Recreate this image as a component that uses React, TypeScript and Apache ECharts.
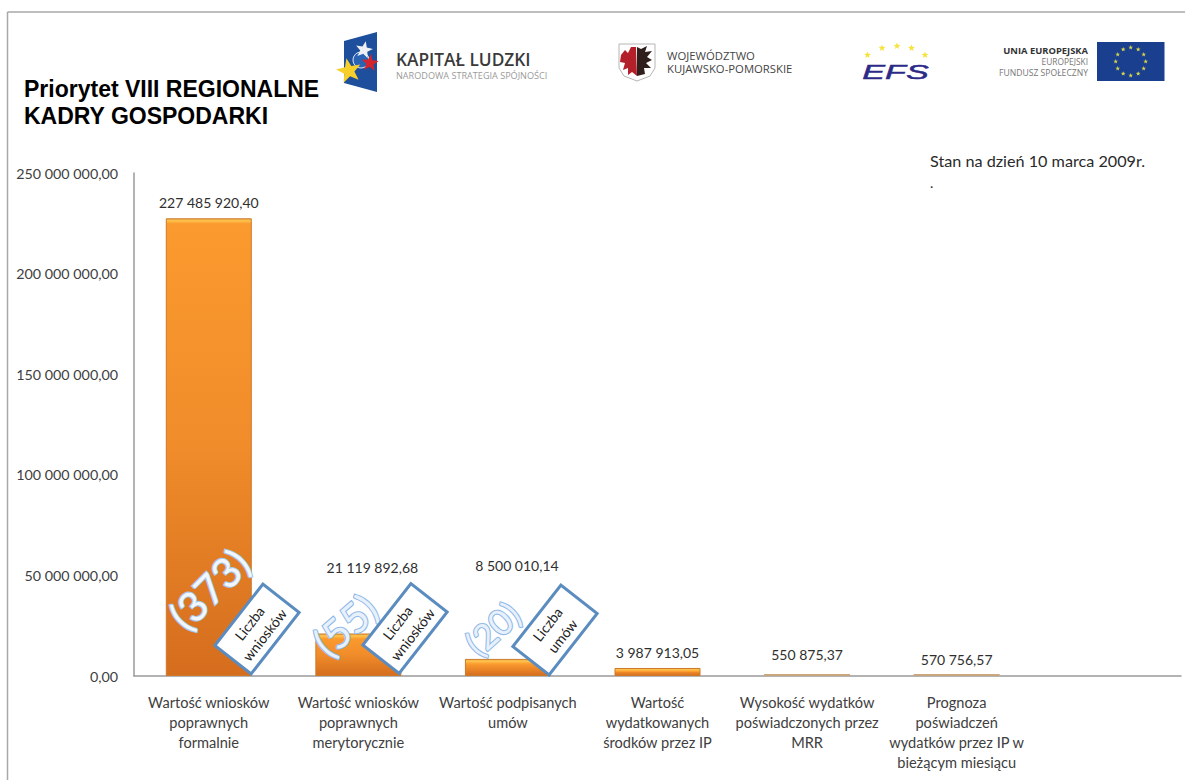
import React, { useEffect, useRef } from "react";
import * as echarts from "echarts";

const titleText = "Priorytet VIII REGIONALNE\nKADRY GOSPODARKI";
const statusText = "Stan na dzień 10 marca 2009r.";
const categories = [
  "Wartość wniosków\npoprawnych\nformalnie",
  "Wartość wniosków\npoprawnych\nmerytorycznie",
  "Wartość podpisanych\numów",
  "Wartość\nwydatkowanych\nśrodków przez IP",
  "Wysokość wydatków\npoświadczonych przez\nMRR",
  "Prognoza\npoświadczeń\nwydatków przez IP w\nbieżącym miesiącu",
  "",
];
const values = [227485920.4, 21119892.68, 8500010.14, 3987913.05, 550875.37, 570756.57, null];
const labelDistances = [9, 59, 86, 8, 13, 8, 0];
const labelShifts = [0, 14, 9, 0, 0, 0, 0];
const countLabels = ["(373)", "(55)", "(20)"];
const noteLabels = ["Liczba\nwniosków", "Liczba\nwniosków", "Liczba\numów"];

const FONT = "Lato, 'Open Sans', sans-serif";
const ARIAL = "'Liberation Sans', Arial, sans-serif";
const GRID_TOP = 173;
const GRID_H = 503;
const AXIS_MAX = 250000000;

const fmt = (v: number) => {
  const [a, b] = v.toFixed(2).split(".");
  return a.replace(/\B(?=(\d{3})+(?!\d))/g, " ") + "," + b;
};

const star = (cx: number, cy: number, r: number, rot = 0) => {
  const pts: number[][] = [];
  for (let i = 0; i < 10; i++) {
    const rad = i % 2 === 0 ? r : r * 0.42;
    const a = -Math.PI / 2 + rot + (i * Math.PI) / 5;
    pts.push([cx + rad * Math.cos(a), cy + rad * Math.sin(a)]);
  }
  return pts;
};

const barFill = (v: number | null) => {
  if (v == null) return undefined;
  const h = (v / AXIS_MAX) * GRID_H;
  if (h < 3) return { color: "#c9a67e", borderWidth: 0 };
  const f = Math.min(0.45, 5 / h);
  return {
    color: new echarts.graphic.LinearGradient(0, 0, 0, 1, [
      { offset: 0, color: "#e8b04e" },
      { offset: f * 0.4, color: "#ffc24a" },
      { offset: f, color: "#fb9a2e" },
      { offset: Math.max(f, 0.5), color: "#f08c2a" },
      { offset: 1, color: "#d56d1e" },
    ]),
    borderWidth: 1,
    borderColor: "#cc7a2a",
  };
};

const t = (text: string, x: number, y: number, font: string, fill: string, align = "left", extra: any = {}) => ({
  type: "text",
  x,
  y,
  z: 100,
  ...extra,
  style: { text, font, fill, align, verticalAlign: "middle", ...(extra.style || {}) },
});

const deg = (d: number) => (d * Math.PI) / 180;

const buildGraphics = () => {
  const els: any[] = [
    { type: "line", z: 1, shape: { x1: 7.5, y1: 12, x2: 1185, y2: 12 }, style: { stroke: "#a8a8a8", lineWidth: 1.5 } },
    { type: "line", z: 1, shape: { x1: 7.5, y1: 12, x2: 7.5, y2: 780 }, style: { stroke: "#a8a8a8", lineWidth: 1.5 } },
    // Kapitał Ludzki logo
    { type: "polygon", z: 50, shape: { points: [[344, 41], [377, 32], [377, 92], [344, 83]] }, style: { fill: "#1d4f9c" } },
    { type: "circle", z: 51, shape: { cx: 361, cy: 60, r: 8 }, style: { fill: "#2a62b4", stroke: "#dfe8f5", lineWidth: 1 } },
    { type: "polygon", z: 52, shape: { points: star(364, 50, 9, 0.2) }, style: { fill: "#eef0f4" } },
    { type: "polygon", z: 52, shape: { points: star(370, 63, 9, 0.1) }, style: { fill: "#d4242c" } },
    { type: "polygon", z: 53, shape: { points: star(349, 71, 13, -0.2) }, style: { fill: "#f6cf2a" } },
    t("KAPITAŁ LUDZKI", 396, 59, "600 17.3px 'Open Sans', sans-serif", "#3a3a3a"),
    t("NARODOWA STRATEGIA SPÓJNOŚCI", 396, 75, "9.1px 'Open Sans', sans-serif", "#9a9a9a"),
    // Crest
    {
      type: "polygon", z: 50,
      shape: { points: [[619, 44], [655, 44], [655, 68], [650, 76], [637, 81], [624, 76], [619, 68]] },
      style: { fill: "#ffffff", stroke: "#b5b5b5", lineWidth: 1 },
    },
    {
      type: "polygon", z: 51,
      shape: { points: [[621, 55], [625, 50], [628, 53], [631, 47], [636, 47], [637, 76], [632, 72], [628, 75], [628, 68], [623, 70], [625, 63], [620, 62]] },
      style: { fill: "#b3202a" },
    },
    {
      type: "polygon", z: 51,
      shape: { points: [[637, 47], [641, 49], [647, 46], [645, 52], [652, 51], [647, 57], [652, 60], [646, 63], [651, 68], [644, 68], [645, 74], [637, 76]] },
      style: { fill: "#2e1f1c" },
    },
    t("WOJEWÓDZTWO", 667, 55.5, "11.3px 'Open Sans', sans-serif", "#454545"),
    t("KUJAWSKO-POMORSKIE", 667, 68.5, "11.3px 'Open Sans', sans-serif", "#454545"),
    // EFS
    ...[[867.5, 55], [882, 48], [897, 46], [911.5, 48], [925, 55]].map(([x, y]) => ({
      type: "polygon", z: 50, shape: { points: star(x, y, 3.6) }, style: { fill: "#f5e33a" },
    })),
    t("EFS", 895.5, 72, "italic 400 22px 'Liberation Sans', sans-serif", "#2b2a86", "center", {
      scaleX: 1.55,
      scaleY: 0.95,
      style: { stroke: "#2b2a86", lineWidth: 0.5 },
    }),
    // EU
    t("UNIA EUROPEJSKA", 1088, 50.5, "700 9.4px 'Open Sans', sans-serif", "#333333", "right"),
    t("EUROPEJSKI", 1088, 61.5, "8.4px 'Open Sans', sans-serif", "#777777", "right"),
    t("FUNDUSZ SPOŁECZNY", 1088, 72.5, "8.6px 'Open Sans', sans-serif", "#777777", "right"),
    { type: "rect", z: 50, shape: { x: 1097, y: 42, width: 67.5, height: 39 }, style: { fill: "#1b3f8f" } },
    ...Array.from({ length: 12 }, (_, i) => ({
      type: "polygon", z: 51,
      shape: { points: star(1130.7 + 15 * Math.cos((i * Math.PI) / 6), 61.5 + 14 * Math.sin((i * Math.PI) / 6), 2.4) },
      style: { fill: "#d7d64a" },
    })),
    // Status note
    t(statusText, 930, 160, `16.2px ${FONT}`, "#2a2a2a"),
    t(".", 930, 182, `14px ${FONT}`, "#2a2a2a"),
  ];

  const counts = [
    { x: 209, y: 589, size: 41, angle: 45, fill: "#f2f7fd", stroke: "#a6c8ec" },
    { x: 345, y: 625, size: 41, angle: 41, fill: "#e8f1fb", stroke: "#8fb9e8" },
    { x: 492, y: 628, size: 35, angle: 42, fill: "#e8f1fb", stroke: "#8fb9e8" },
  ];
  counts.forEach((c, i) => {
    els.push(
      t(countLabels[i], c.x, c.y, `${c.size}px ${FONT}`, c.fill, "center", {
        rotation: deg(c.angle),
        style: { stroke: c.stroke, lineWidth: 2.2 },
      }),
    );
  });

  const boxes = [
    { x: 257, y: 629 },
    { x: 405, y: 628.5 },
    { x: 555, y: 630 },
  ];
  boxes.forEach((b, i) => {
    els.push({
      type: "group",
      x: b.x,
      y: b.y,
      rotation: deg(52),
      z: 110,
      children: [
        {
          type: "rect", z: 110,
          shape: { x: -39, y: -23, width: 78, height: 46 },
          style: { fill: "#ffffff", stroke: "#5b8cc0", lineWidth: 3 },
        },
        {
          type: "text", z: 111,
          style: {
            text: noteLabels[i], font: `14px ${FONT}`, fill: "#222222",
            align: "center", verticalAlign: "middle", lineHeight: 19,
          },
        },
      ],
    });
  });
  return els;
};

export default function App() {
  const ref = useRef<HTMLDivElement>(null);
  useEffect(() => {
    const chart = echarts.init(ref.current!, undefined, { renderer: "svg" });
    chart.setOption({
      animation: false,
      backgroundColor: "#ffffff",
      title: {
        text: titleText,
        left: 24,
        top: 75,
        padding: 0,
        textStyle: { fontFamily: ARIAL, fontSize: 23, fontWeight: "bold", lineHeight: 27, color: "#000000" },
      },
      grid: { left: 134, top: GRID_TOP, width: 1047, height: GRID_H },
      xAxis: {
        type: "category",
        data: categories,
        axisLine: { lineStyle: { color: "#9a9a9a", width: 1.5 } },
        axisTick: { show: false },
        axisLabel: {
          interval: 0, margin: 17, fontFamily: FONT, fontSize: 14.6, lineHeight: 19.8,
          color: "#404040", align: "center", verticalAlign: "top",
        },
      },
      yAxis: {
        type: "value",
        min: 0,
        max: AXIS_MAX,
        interval: 50000000,
        splitLine: { show: false },
        axisTick: { show: false },
        axisLine: { show: true, lineStyle: { color: "#9a9a9a", width: 1.5 } },
        axisLabel: { margin: 16, fontFamily: FONT, fontSize: 14.3, color: "#404040", formatter: (v: number) => fmt(v) },
      },
      series: [
        {
          type: "bar",
          barWidth: 86,
          barMinHeight: 2,
          data: values.map((v, i) => ({
            value: v,
            itemStyle: barFill(v),
            label: { distance: labelDistances[i], offset: [labelShifts[i], 0] },
          })),
          label: {
            show: true,
            position: "top",
            fontFamily: FONT,
            fontSize: 14,
            color: "#2f2f2f",
            formatter: (p: any) => (p.value == null ? "" : fmt(p.value)),
          },
        },
      ],
      graphic: { elements: buildGraphics() },
    });
    return () => chart.dispose();
  }, []);
  return <div ref={ref} style={{ width: 1185, height: 780, position: "fixed", left: 0, top: 0 }} />;
}
